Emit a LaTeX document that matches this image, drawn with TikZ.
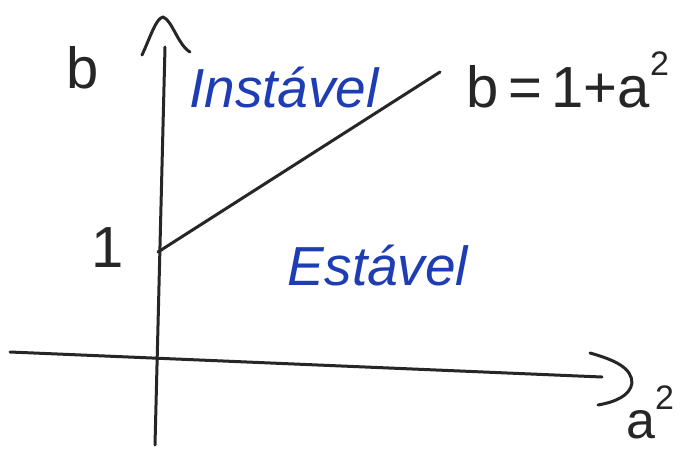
\documentclass[tikz,border=0pt]{standalone}
\usepackage{fontspec}
\setmainfont{Liberation Sans}
\definecolor{ink}{HTML}{262626}
\definecolor{pen}{HTML}{1E3CB4}
\newcommand{\sqr}{\raisebox{0.55em}{\fontsize{34}{36}\selectfont 2}}
\tikzset{
  stroke/.style={draw=ink, line width=3pt, line cap=round, line join=round},
  lbl/.style={text=ink, font=\fontsize{58}{62}\selectfont, inner sep=0pt},
  zone/.style={text=pen, font=\itshape\fontsize{55}{60}\selectfont, inner sep=0pt}
}
\begin{document}
\begin{tikzpicture}[x=1pt,y=-1pt]
\useasboundingbox[fill=white] (0,0) rectangle (685,450);
% axes
\coordinate (ybot) at (155,445);
\coordinate (ytop) at (165,47);
\coordinate (xl) at (10,352);
\coordinate (xr) at (602,377);
\draw[stroke] (ybot) -- (ytop);
\draw[stroke] (xl) -- (xr);
% chevron heads
\coordinate (yh1) at (142,55);
\coordinate (yapex) at (163,17);
\coordinate (yh2) at (190,52);
\draw[stroke] (yh1) .. controls (150,38) and (156,18) .. (yapex) .. controls (172,20) and (178,45) .. (yh2);
\coordinate (xh1) at (590,353);
\coordinate (xtip) at (632,383);
\coordinate (xh2) at (598,405);
\draw[stroke] (xh1) .. controls (615,360) and (632,368) .. (xtip) .. controls (630,396) and (615,402) .. (xh2);
% line b = 1 + a^2
\coordinate (p0) at (158,252);
\coordinate (p1) at (440,72);
\draw[stroke] (p0) -- (p1);
% labels
\node[lbl] (bl) at (83,68) {b};
\node[lbl] (one) at (108,248) {1};
\node[lbl, anchor=west] (eq) at (466,80) {b\,=\,1+a\sqr};
\node[lbl, font=\fontsize{52}{56}\selectfont, anchor=base] (a2) at (650,438) {a\sqr};
\node[zone] (inst) at (284,88) {Instável};
\node[zone] (est) at (378,266) {Estável};
\end{tikzpicture}
\end{document}
